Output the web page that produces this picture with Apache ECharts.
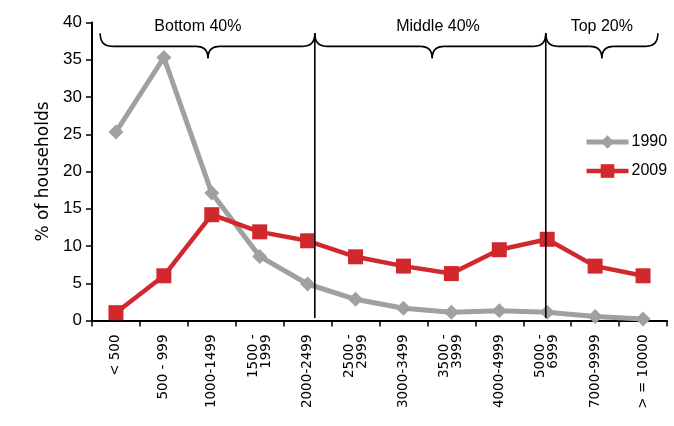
<!DOCTYPE html>
<html>
<head>
<meta charset="utf-8">
<script src="https://cdn.jsdelivr.net/npm/echarts@6/dist/echarts.min.js"></script>
<style>
  html, body { margin: 0; padding: 0; background: #fff; }
  #chart { width: 674px; height: 426px; }
</style>
</head>
<body>
<div id="chart"></div>
<script>
// Household income bands (monthly)
const categories = [
  '< 500', '500 - 999', '1000-1499', '1500 -\n1999', '2000-2499', '2500 -\n2999',
  '3000-3499', '3500 -\n3999', '4000-4999', '5000 -\n6999', '7000-9999', '> = 10000'
];
// Share of households in each band, %
const share1990 = [25.3, 35.3, 17.1, 8.6, 4.9, 2.85, 1.65, 1.1, 1.3, 1.1, 0.55, 0.2];
const share2009 = [1.05, 6.0, 14.2, 11.9, 10.7, 8.55, 7.3, 6.3, 9.5, 10.9, 7.3, 6.0];
const seriesNames = ['1990', '2009'];
// Percent axis
const yMin = 0, yMax = 40, yStep = 5;
// Group labels shown above the plot
const groupLabels = ['Bottom 40%', 'Middle 40%', 'Top 20%'];

const labelFont = "'Liberation Sans', Arial, sans-serif";
const grey = '#a0a0a0', red = '#d0282c';

const chart = echarts.init(document.getElementById('chart'), null, { renderer: 'canvas' });

chart.setOption({
  animation: false,
  backgroundColor: '#ffffff',
  grid: { left: 92, right: 7, top: 22.5, bottom: 105.5, containLabel: false },
  legend: {
    orient: 'vertical',
    left: 584, top: 134, padding: 0,
    itemWidth: 42, itemHeight: 17, itemGap: 13,
    textStyle: { fontFamily: labelFont, fontSize: 16, color: '#000', padding: [0, 0, 0, -2] },
    data: [
      { name: seriesNames[0], lineStyle: { width: 5, color: grey }, itemStyle: { color: grey } },
      { name: seriesNames[1], lineStyle: { width: 4.5, color: red }, itemStyle: { color: red } }
    ]
  },
  xAxis: [{
    type: 'category',
    data: categories,
    boundaryGap: true,
    axisLine: { onZero: false, lineStyle: { color: '#000', width: 2 } },
    axisTick: { show: true, length: 6, inside: false, lineStyle: { color: '#000', width: 1.5 } },
    axisLabel: {
      rotate: 90, interval: 0, margin: 14,
      fontFamily: "'DejaVu Sans', sans-serif", fontSize: 13.5, color: '#000', lineHeight: 13
    },
    splitLine: { show: false }
  }, {
    // hidden linear twin of the category axis, used to place the group braces
    type: 'value', min: -0.5, max: categories.length - 0.5,
    show: false
  }],
  yAxis: {
    type: 'value',
    min: yMin, max: yMax, interval: yStep,
    name: '% of households',
    nameLocation: 'middle', nameGap: 34, nameRotate: 90,
    nameTextStyle: { fontFamily: "'DejaVu Sans', sans-serif", fontSize: 17, color: '#000' },
    axisLine: { show: true, onZero: false, lineStyle: { color: '#000', width: 2 } },
    axisTick: { show: true, length: 6, lineStyle: { color: '#000', width: 1.5 } },
    axisLabel: { fontFamily: labelFont, fontSize: 17, color: '#000', margin: 10 },
    splitLine: { show: false }
  },
  series: [{
    name: seriesNames[0],
    type: 'line',
    data: share1990,
    symbol: 'diamond', symbolSize: 15,
    itemStyle: { color: grey },
    lineStyle: { color: grey, width: 5 },
    z: 2
  }, {
    name: seriesNames[1],
    type: 'line',
    data: share2009,
    symbol: 'rect', symbolSize: 15,
    itemStyle: { color: red },
    lineStyle: { color: red, width: 4.5 },
    z: 3
  }]
});

// Braces and dividing lines above the chart
function drawGroups() {
  const px = v => chart.convertToPixel({ xAxisIndex: 1 }, v);
  const py = v => chart.convertToPixel({ yAxisIndex: 0 }, v);
  const yEnd = py(38.55), yBar = py(36.8), yTip = py(35.2), yText = py(39.5), yBase = py(0.35);
  const spans = [[-0.33, 1.92, 4.15], [4.15, 6.6, 8.97], [8.97, 10.14, 11.31]];
  const textAt = [1.71, 6.72, 10.14];
  const stroke = { stroke: '#000', lineWidth: 1.6, fill: null };
  const els = [];
  const curve = (x1, y1, cx, cy, x2, y2) => els.push({
    type: 'bezierCurve', z: 100,
    shape: { x1, y1, x2, y2, cpx1: cx, cpy1: cy },
    style: stroke
  });
  const seg = (x1, y1, x2, y2) => els.push({
    type: 'line', z: 100,
    shape: { x1, y1, x2, y2 },
    style: stroke
  });
  spans.forEach(([a, m, b], i) => {
    const xa = px(a), xm = px(m), xb = px(b);
    const rx = 12;
    curve(xa, yEnd, xa, yBar, xa + rx, yBar);
    seg(xa + rx, yBar, xm - rx, yBar);
    curve(xm - rx, yBar, xm, yBar, xm, yTip);
    curve(xm, yTip, xm, yBar, xm + rx, yBar);
    seg(xm + rx, yBar, xb - rx, yBar);
    curve(xb - rx, yBar, xb, yBar, xb, yEnd);
    els.push({
      type: 'text', z: 100,
      x: px(textAt[i]), y: yText,
      style: {
        text: groupLabels[i], fontFamily: labelFont, fontSize: 16, fill: '#000',
        align: 'center', verticalAlign: 'middle'
      }
    });
  });
  [4.15, 8.97].forEach(v => seg(px(v), yEnd, px(v), yBase));
  chart.setOption({ graphic: els });
}
drawGroups();
</script>
</body>
</html>
